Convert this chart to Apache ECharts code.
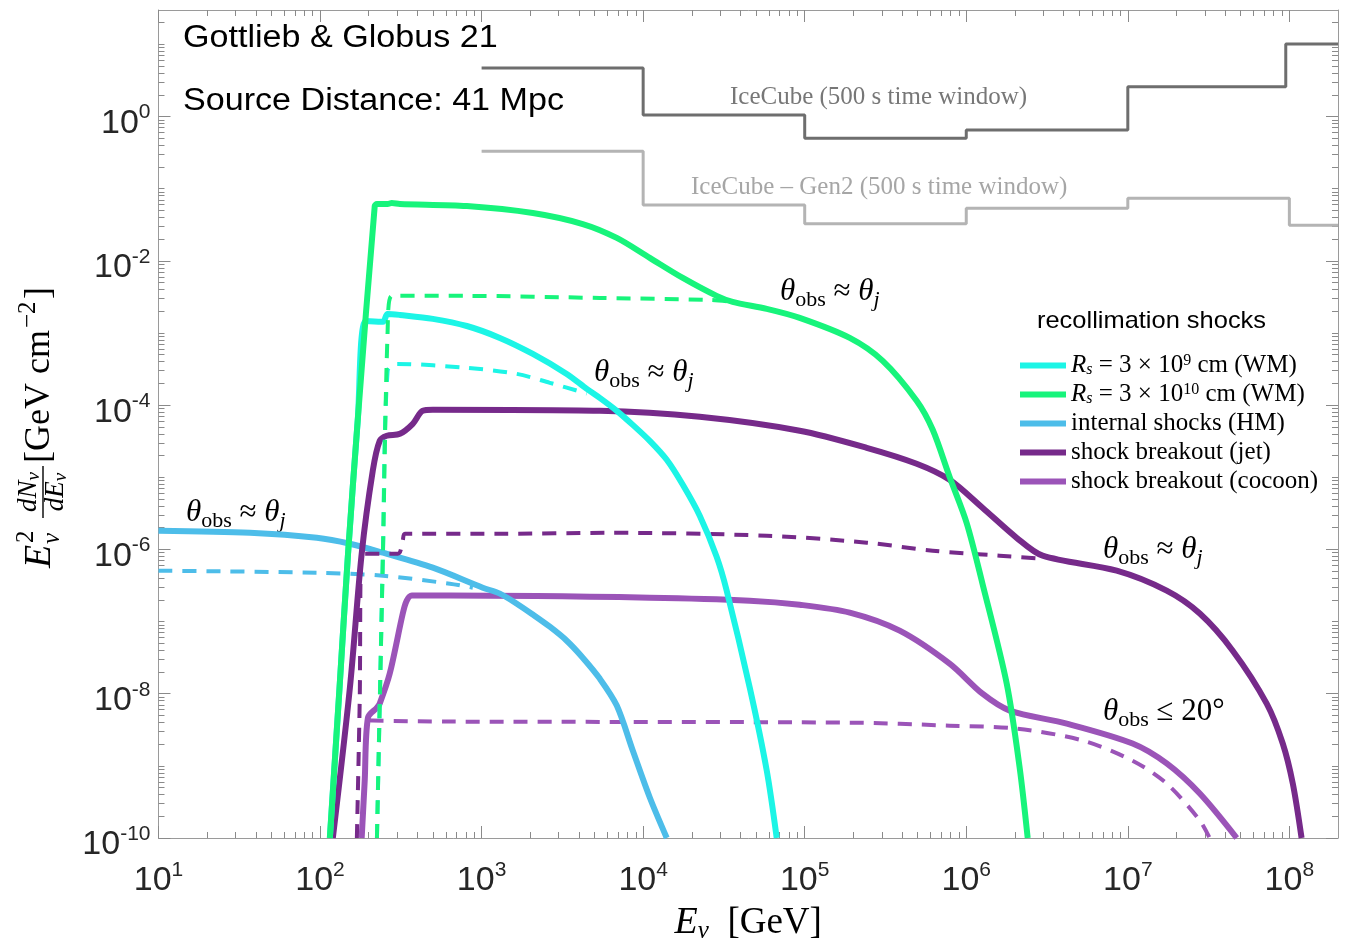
<!DOCTYPE html>
<html><head><meta charset="utf-8">
<script src="https://cdn.jsdelivr.net/npm/echarts@6/dist/echarts.min.js"></script>
<style>html,body{margin:0;padding:0;background:#fff}#c{width:1348px;height:941px}</style>
</head><body><div id="c"></div>
<script>
// ---------------- data ----------------
const X_MIN = 10, X_MAX = 2e8;
const Y_MIN = 1e-10, Y_MAX = 30;
const xMajorTicks = [1e1, 1e2, 1e3, 1e4, 1e5, 1e6, 1e7, 1e8];
const yMajorTicks = [1e-10, 1e-8, 1e-6, 1e-4, 1e-2, 1e0];

// IceCube sensitivities (step curves): bin edges and values
const icEdges = [1e3, 1e4, 1e5, 1e6, 1e7, 9.5e7, 2e8];
const icValues = [4.70, 1.05, 0.50, 0.65, 2.58, 10.1];
const gen2Edges = [1e3, 1e4, 1e5, 1e6, 1e7, 1e8, 2e8];
const gen2Values = [0.330, 0.0595, 0.0328, 0.0535, 0.0736, 0.0311];

// Recollimation shocks, R_s = 3e9 cm (cyan)
const rs9Solid = [[115,1e-10],[132,1.21e-8],[149,8.71e-7],[171,6.07e-5],[192,1.47e-3],[245,1.43e-3],[262,1.84e-3],[312,1.78e-3],[499,1.57e-3],[810,1.25e-3],[1297,8.55e-4],[2075,5.13e-4],[3365,2.71e-4],[4477,1.68e-4],[5386,1.26e-4],[6866,8.34e-5],[8623,5.33e-5],[10990,3.20e-5],[14000,1.75e-5],[17600,7.87e-6],[22400,2.93e-6],[28500,7.92e-7],[32900,2.68e-7],[45700,1.21e-8],[58200,8.61e-10],[67100,1e-10]];
const rs9Dashed = [[225,1e-10],[245,8.71e-7],[262,2.99e-4],[298,3.73e-4],[810,3.29e-4],[1652,2.71e-4],[2644,2.04e-4],[4477,1.45e-4]];
// Recollimation shocks, R_s = 3e10 cm (green)
const rs10Solid = [[115,1e-10],[132,1.21e-8],[149,8.71e-7],[171,6.07e-5],[218,0.0576],[225,0.0614],[262,0.0614],[278,0.0634],[312,0.0614],[810,0.0576],[2075,0.0461],[4227,0.0324],[6866,0.0208],[10990,0.0110],[17600,5.80e-3],[28500,3.27e-3],[35800,2.70e-3],[58200,2.16e-3],[93100,1.62e-3],[1.90e5,8.55e-4],[3.04e5,4.11e-4],[4.93e5,1.15e-4],[6.20e5,4.55e-5],[7.89e5,1.01e-5],[1.005e6,2.34e-6],[1.26e6,3.35e-7],[1.78e6,1.38e-8],[2.14e6,9.47e-10],[2.40e6,1e-10]];
const rs10Dashed = [[225,1e-10],[245,8.71e-7],[262,1.07e-3],[278,3.27e-3],[810,3.27e-3],[5386,3.06e-3],[25800,2.87e-3],[35800,2.70e-3]];
// Internal shocks (HM)
const isSolid = [[10,1.82e-6],[36.8,1.70e-6],[95.5,1.45e-6],[153,1.20e-6],[245,9.00e-7],[499,5.58e-7],[1017,2.95e-7],[1297,2.44e-7],[1652,1.77e-7],[2075,1.25e-7],[2644,8.48e-8],[3365,5.43e-8],[4227,3.16e-8],[5386,1.62e-8],[6866,6.84e-9],[8623,1.63e-9],[10990,3.64e-10],[14000,1e-10]];
const isDashed = [[10,5.07e-7],[95.5,4.75e-7],[245,4.32e-7],[636,3.35e-7],[882,2.95e-7]];
// Shock breakout (jet)
const jetSolid = [[120,1e-10],[153,1.21e-8],[181,8.71e-7],[212,1.23e-5],[234,3.20e-5],[259,3.76e-5],[312,4.00e-5],[375,5.51e-5],[432,8.34e-5],[499,8.61e-5],[5386,8.34e-5],[22400,6.88e-5],[93100,4.41e-5],[2.42e5,2.56e-5],[4.93e5,1.54e-5],[7.89e5,9.23e-6],[1.26e6,3.78e-6],[2.05e6,1.45e-6],[2.97e6,8.18e-7],[8.53e6,5.07e-7],[1.74e7,2.68e-7],[2.79e7,1.29e-7],[4.46e7,3.95e-8],[7.24e7,7.29e-9],[9.10e7,2.04e-9],[1.05e8,5.69e-10],[1.19e8,1e-10]];
const jetDashed = [[169,1e-10],[176,8.02e-9],[181,8.71e-7],[303,8.71e-7],[325,1.32e-6],[335,1.65e-6],[1297,1.65e-6],[6223,1.70e-6],[58200,1.55e-6],[2.42e5,1.24e-6],[6.20e5,9.59e-7],[1.61e6,8.18e-7],[2.97e6,7.43e-7]];
// Shock breakout (cocoon)
const cocSolid = [[181,1e-10],[189,6.25e-10],[198,4.67e-9],[225,6.41e-9],[234,7.29e-9],[270,1.90e-8],[325,1.29e-7],[344,1.95e-7],[370,2.29e-7],[636,2.29e-7],[10990,2.14e-7],[45700,1.95e-7],[93100,1.71e-7],[1.90e5,1.33e-7],[3.87e5,7.48e-8],[7.89e5,2.61e-8],[1.26e6,1.00e-8],[1.86e6,5.83e-9],[4.19e6,3.85e-9],[1.07e7,2.04e-9],[1.74e7,1.08e-9],[2.79e7,4.13e-10],[4.72e7,1e-10]];
const cocDashed = [[181,1e-10],[189,6.25e-10],[198,4.30e-9],[212,4.24e-9],[636,4.11e-9],[1.90e5,3.97e-9],[7.89e5,3.61e-9],[2.05e6,3.29e-9],[5.26e6,2.24e-9],[1.07e7,1.18e-9],[1.74e7,5.69e-10],[2.79e7,1.75e-10],[3.21e7,1e-10]];

const legendNames = ['rs9', 'rs10', 'is', 'jet', 'coc'];
const legendLabels = {
  rs9: '{i|R}{sb|s}{n| = 3 × 10}{sp|9}{n| cm (WM)}',
  rs10: '{i|R}{sb|s}{n| = 3 × 10}{sp|10}{n| cm (WM)}',
  is: '{n|internal shocks (HM)}',
  jet: '{n|shock breakout (jet)}',
  coc: '{n|shock breakout (cocoon)}'
};

// ---------------- styling ----------------
const C_CYAN = '#1cf5e6', C_GREEN = '#17f47b', C_BLUE = '#4dbde9', C_JET = '#762a8a', C_COC = '#9b54b8';
const AXIS_COLOR = '#9a9a9a', TICK_COLOR = '#8a8a8a', LABEL_COLOR = '#262626';
const SERIF = '"Liberation Serif","DejaVu Serif",serif';
const SANS = '"Liberation Sans",Arial,Helvetica,sans-serif';

function minorTicks(lo, hi, isMajor) {
  const out = [];
  const k0 = Math.floor(Math.log10(lo)), k1 = Math.ceil(Math.log10(hi));
  for (let k = k0; k <= k1; k++) {
    for (let m = 1; m <= 9; m++) {
      const v = m * Math.pow(10, k);
      if (v > lo * 1.0001 && v < hi * 0.9999 && !isMajor(m, k)) out.push(v);
    }
  }
  return out;
}
const xMinor = minorTicks(X_MIN, X_MAX, (m, k) => m === 1);
const yMinor = minorTicks(Y_MIN, Y_MAX, (m, k) => m === 1 && k % 2 === 0);

const tickRich = {
  b: { fontSize: 34, fontFamily: SANS, color: LABEL_COLOR, lineHeight: 36, padding: [14, 0, 0, 0] },
  s: { fontSize: 21, fontFamily: SANS, color: LABEL_COLOR, lineHeight: 22, padding: [0, 0, 8, 0] }
};
function fmtPow(v) {
  const e = Math.round(Math.log10(v));
  return '{b|10}{s|' + e + '}';
}

function axisX(position, ticks, len, withLine, withLabel) {
  return {
    type: 'log', logBase: 10, min: X_MIN, max: X_MAX, position: position, gridIndex: 0,
    axisLine: { show: withLine, onZero: false, lineStyle: { color: AXIS_COLOR, width: 1 } },
    axisTick: { show: true, inside: true, length: len, customValues: ticks, lineStyle: { color: TICK_COLOR, width: 1 } },
    axisLabel: withLabel ? { show: true, customValues: ticks, formatter: fmtPow, margin: 18, rich: tickRich } : { show: false },
    splitLine: { show: false }, minorTick: { show: false }, axisPointer: { show: false },
    nameLocation: 'middle'
  };
}
function axisY(position, ticks, len, withLine, withLabel) {
  return {
    type: 'log', logBase: 10, min: Y_MIN, max: Y_MAX, position: position, gridIndex: 0,
    axisLine: { show: withLine, onZero: false, lineStyle: { color: AXIS_COLOR, width: 1 } },
    axisTick: { show: true, inside: true, length: len, customValues: ticks, lineStyle: { color: TICK_COLOR, width: 1 } },
    axisLabel: withLabel ? { show: true, customValues: ticks, formatter: fmtPow, margin: 8, rich: tickRich } : { show: false },
    splitLine: { show: false }, minorTick: { show: false }, axisPointer: { show: false }
  };
}

const xAxes = [
  axisX('bottom', xMajorTicks, 12, true, true),
  axisX('bottom', xMinor, 6, false, false),
  axisX('top', xMajorTicks, 12, true, false),
  axisX('top', xMinor, 6, false, false)
];
xAxes[0].name = '{i|E}{s|ν}{n|  [GeV]}';
xAxes[0].nameGap = 54;
xAxes[0].nameTextStyle = {
  rich: {
    i: { fontFamily: SERIF, fontStyle: 'italic', fontSize: 38, color: '#000', lineHeight: 40 },
    s: { fontFamily: SERIF, fontStyle: 'italic', fontSize: 25, color: '#000', lineHeight: 25, padding: [16, 0, 0, 0] },
    n: { fontFamily: SERIF, fontSize: 37, color: '#000', lineHeight: 40 }
  }
};
const yAxes = [
  axisY('left', yMajorTicks, 12, true, true),
  axisY('left', yMinor, 6, false, false),
  axisY('right', yMajorTicks, 12, true, false),
  axisY('right', yMinor, 6, false, false)
];

function stepData(edges, vals) {
  const pts = vals.map((v, i) => [edges[i], v]);
  pts.push([edges[edges.length - 1], vals[vals.length - 1]]);
  return pts;
}
function lineSeries(name, data, color, width, dashed) {
  return {
    type: 'line', name: name, data: data, xAxisIndex: 0, yAxisIndex: 0,
    showSymbol: false, symbol: 'none', smooth: 0.3,
    lineStyle: { color: color, width: width, type: dashed ? [14, 10] : 'solid', cap: 'butt', join: 'round' },
    itemStyle: { color: color }, silent: true, z: 2, animation: false
  };
}

const series = [
  { type: 'line', name: 'IceCube', data: stepData(icEdges, icValues), step: 'end', showSymbol: false, symbol: 'none',
    lineStyle: { color: '#6e6e6e', width: 3 }, itemStyle: { color: '#6e6e6e' }, silent: true },
  { type: 'line', name: 'Gen2', data: stepData(gen2Edges, gen2Values), step: 'end', showSymbol: false, symbol: 'none',
    lineStyle: { color: '#b4b4b4', width: 3 }, itemStyle: { color: '#b4b4b4' }, silent: true },
  lineSeries('coc-dashed', cocDashed, C_COC, 4, true),
  lineSeries('coc', cocSolid, C_COC, 6, false),
  lineSeries('is-dashed', isDashed, C_BLUE, 4, true),
  lineSeries('is', isSolid, C_BLUE, 6, false),
  lineSeries('jet-dashed', jetDashed, C_JET, 4, true),
  lineSeries('jet', jetSolid, C_JET, 6, false),
  lineSeries('rs9-dashed', rs9Dashed, C_CYAN, 4, true),
  lineSeries('rs9', rs9Solid, C_CYAN, 6, false),
  lineSeries('rs10-dashed', rs10Dashed, C_GREEN, 4, true),
  lineSeries('rs10', rs10Solid, C_GREEN, 6, false)
];

// annotation rich styles
const annRich = {
  t: { fontFamily: SERIF, fontStyle: 'italic', fontSize: 31, lineHeight: 32, fill: '#000' },
  n: { fontFamily: SERIF, fontSize: 31, lineHeight: 32, fill: '#000' },
  s: { fontFamily: SERIF, fontSize: 22, lineHeight: 22, padding: [16, 0, 0, 0], fill: '#000' },
  j: { fontFamily: SERIF, fontStyle: 'italic', fontSize: 22, lineHeight: 22, padding: [16, 0, 0, 0], fill: '#000' }
};
const thetaApprox = '{t|θ}{s|obs}{n| ≈ }{t|θ}{j|j}';
function ann(x, y, text) {
  return { type: 'text', x: x, y: y, silent: true,
    style: { text: text, rich: annRich, align: 'left', verticalAlign: 'middle', fill: '#000', font: '31px ' + SERIF } };
}
function t(x, y, text, font) {
  return { type: 'text', x: x, y: y, style: { text: text, font: font, fill: '#000', align: 'left', verticalAlign: 'middle' } };
}
const fracRich = {
  i: { fontFamily: SERIF, fontStyle: 'italic', fontSize: 27, lineHeight: 28, fill: '#000' },
  s: { fontFamily: SERIF, fontStyle: 'italic', fontSize: 19, lineHeight: 19, padding: [10, 0, 0, 0], fill: '#000' }
};

const graphic = [
  { type: 'text', x: 183, y: 38, scaleX: 1.1, silent: true,
    style: { text: 'Gottlieb & Globus 21', font: '31px ' + SANS, fill: '#000', align: 'left', verticalAlign: 'middle' } },
  { type: 'text', x: 183, y: 101, scaleX: 1.1, silent: true,
    style: { text: 'Source Distance: 41 Mpc', font: '31px ' + SANS, fill: '#000', align: 'left', verticalAlign: 'middle' } },
  { type: 'text', x: 730, y: 97, silent: true,
    style: { text: 'IceCube (500 s time window)', font: '25px ' + SERIF, fill: '#777777', align: 'left', verticalAlign: 'middle' } },
  { type: 'text', x: 691, y: 187, silent: true,
    style: { text: 'IceCube – Gen2 (500 s time window)', font: '25px ' + SERIF, fill: '#a6a6a6', align: 'left', verticalAlign: 'middle' } },
  { type: 'text', x: 1037, y: 321, scaleX: 1.06, silent: true,
    style: { text: 'recollimation shocks', font: '24px ' + SANS, fill: '#000', align: 'left', verticalAlign: 'middle' } },
  ann(780, 292, thetaApprox),
  ann(594, 373, thetaApprox),
  ann(186, 513, thetaApprox),
  ann(1103, 550, thetaApprox),
  ann(1103, 712, '{t|θ}{s|obs}{n| ≤ 20°}'),
  // y-axis title (rotated): E_nu^2 dN_nu/dE_nu [GeV cm^-2]
  { type: 'group', x: 40, y: 425, rotation: Math.PI / 2, silent: true, children: [
    t(-143, 0, 'E', 'italic 38px ' + SERIF),
    t(-118, -14, '2', '25px ' + SERIF),
    t(-119, 12, 'ν', 'italic 25px ' + SERIF),
    { type: 'text', x: -67, y: -11, style: { text: '{i|dN}{s|ν}', rich: fracRich, align: 'center', verticalAlign: 'middle' } },
    { type: 'line', shape: { x1: -93, y1: 3, x2: -41, y2: 3 }, style: { stroke: '#000', lineWidth: 1.4 } },
    { type: 'text', x: -67, y: 16, style: { text: '{i|dE}{s|ν}', rich: fracRich, align: 'center', verticalAlign: 'middle' } },
    t(-38, 0, '[GeV', '36px ' + SERIF),
    t(51, 0, 'cm', '36px ' + SERIF),
    t(97, -12, '−2', '25px ' + SERIF),
    t(126, 0, ']', '36px ' + SERIF)
  ] }
];

const option = {
  animation: false,
  backgroundColor: '#ffffff',
  grid: { left: 158.5, right: 10, top: 10, bottom: 103, containLabel: false, outerBoundsMode: 'none' },
  xAxis: xAxes,
  yAxis: yAxes,
  legend: {
    data: legendNames.map(n => ({ name: n, icon: 'rect' })),
    orient: 'vertical', left: 1020, top: 353, itemWidth: 46, itemHeight: 6, itemGap: 4,
    selectedMode: false, padding: 0,
    formatter: n => legendLabels[n],
    textStyle: {
      color: '#000',
      rich: {
        n: { fontFamily: SERIF, fontSize: 25, lineHeight: 25, color: '#000' },
        i: { fontFamily: SERIF, fontStyle: 'italic', fontSize: 25, lineHeight: 25, color: '#000' },
        sb: { fontFamily: SERIF, fontStyle: 'italic', fontSize: 16, lineHeight: 16, padding: [9, 0, 0, 0], color: '#000' },
        sp: { fontFamily: SERIF, fontSize: 16, lineHeight: 16, padding: [0, 0, 9, 0], color: '#000' }
      }
    }
  },
  series: series,
  graphic: graphic
};
const chart = echarts.init(document.getElementById('c'), null, { renderer: 'canvas' });
chart.setOption(option);
</script></body></html>
